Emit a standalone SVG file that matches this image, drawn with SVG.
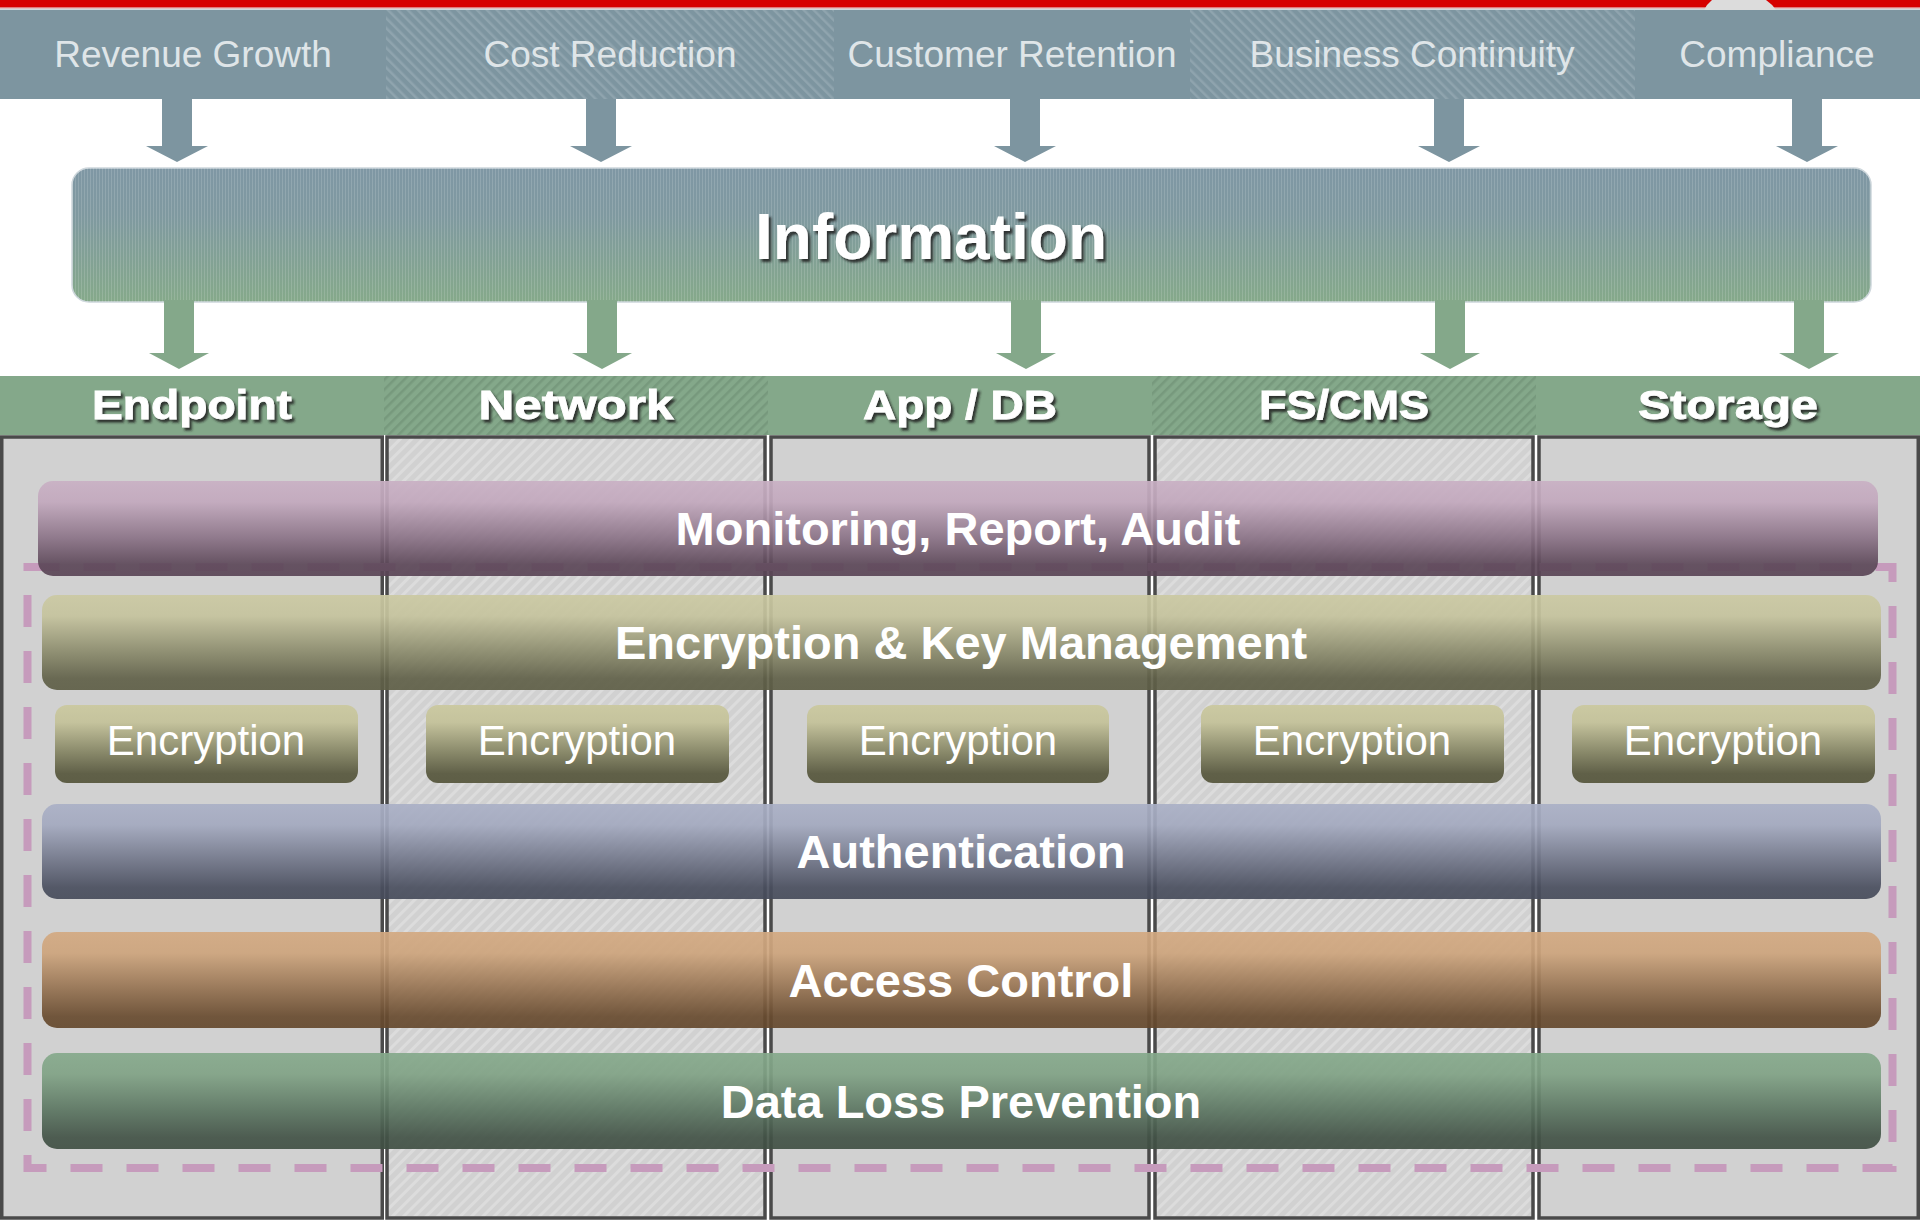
<svg xmlns="http://www.w3.org/2000/svg" width="1920" height="1220" viewBox="0 0 1920 1220">
<defs>
<style>
.hdr{font-family:"Liberation Sans",Arial,sans-serif;font-size:37px;fill:#dfe5e8;text-anchor:middle}
.col{font-family:"Liberation Sans",Arial,sans-serif;font-size:41px;font-weight:bold;fill:#ffffff;text-anchor:middle;stroke:#ffffff;stroke-width:0.8;filter:url(#sh)}
.bar{font-family:"Liberation Sans",Arial,sans-serif;font-size:47px;font-weight:bold;fill:#ffffff;text-anchor:middle}
.enc{font-family:"Liberation Sans",Arial,sans-serif;font-size:42px;fill:#ffffff;text-anchor:middle}
.colbox{stroke:#4a4a4a;stroke-width:3.5}
.arrTop{fill:#7d95a0}
.arrGrn{fill:#84a88a}
.b{opacity:0.92}
</style>
<filter id="sh" x="-10%" y="-20%" width="130%" height="160%">
<feDropShadow dx="2.5" dy="3" stdDeviation="1.2" flood-color="#1e1e1e" flood-opacity="0.85"/>
</filter>
<pattern id="hHatch" width="7" height="7" patternUnits="userSpaceOnUse" patternTransform="rotate(-45)">
<rect width="7" height="7" fill="#7d95a0"/>
<rect width="2.5" height="7" fill="#8fa4ae"/>
</pattern>
<pattern id="gHatch" width="7" height="7" patternUnits="userSpaceOnUse" patternTransform="rotate(45)">
<rect width="7" height="7" fill="#84a88a"/>
<rect width="2.5" height="7" fill="#77997d"/>
</pattern>
<pattern id="cHatch" width="8" height="8" patternUnits="userSpaceOnUse" patternTransform="rotate(45)">
<rect width="8" height="8" fill="#d1d1d1"/>
<rect width="3" height="8" fill="#dcdcdc"/>
</pattern>
<pattern id="vStripe" width="3" height="10" patternUnits="userSpaceOnUse">
<rect width="1" height="10" fill="#ffffff" opacity="0.14"/>
</pattern>
<linearGradient id="gInfo" x1="0" y1="0" x2="0" y2="1">
<stop offset="0" stop-color="#7f97a4"/>
<stop offset="0.35" stop-color="#7f99a0"/>
<stop offset="1" stop-color="#85a98a"/>
</linearGradient>
<linearGradient id="gMon" x1="0" y1="0" x2="0" y2="1">
<stop offset="0" stop-color="#c9b0c4"/>
<stop offset="0.22" stop-color="#c2a8bd"/>
<stop offset="0.6" stop-color="#8a7286"/>
<stop offset="0.88" stop-color="#5c4758"/>
<stop offset="1" stop-color="#5a4556"/>
</linearGradient>
<linearGradient id="gEnc" x1="0" y1="0" x2="0" y2="1">
<stop offset="0" stop-color="#cbc9a2"/>
<stop offset="0.22" stop-color="#c5c39d"/>
<stop offset="0.6" stop-color="#8a8a6b"/>
<stop offset="0.88" stop-color="#606048"/>
<stop offset="1" stop-color="#5e5e46"/>
</linearGradient>
<linearGradient id="gAuth" x1="0" y1="0" x2="0" y2="1">
<stop offset="0" stop-color="#aab0c6"/>
<stop offset="0.22" stop-color="#a3a9bf"/>
<stop offset="0.6" stop-color="#6f7487"/>
<stop offset="0.88" stop-color="#494e5e"/>
<stop offset="1" stop-color="#464b5a"/>
</linearGradient>
<linearGradient id="gAcc" x1="0" y1="0" x2="0" y2="1">
<stop offset="0" stop-color="#d3a981"/>
<stop offset="0.22" stop-color="#cda47c"/>
<stop offset="0.6" stop-color="#93704f"/>
<stop offset="0.88" stop-color="#684b2f"/>
<stop offset="1" stop-color="#64482d"/>
</linearGradient>
<linearGradient id="gDlp" x1="0" y1="0" x2="0" y2="1">
<stop offset="0" stop-color="#85a98b"/>
<stop offset="0.22" stop-color="#80a285"/>
<stop offset="0.6" stop-color="#5a7460"/>
<stop offset="0.88" stop-color="#425246"/>
<stop offset="1" stop-color="#404f43"/>
</linearGradient>
</defs>

<rect x="0" y="0" width="1920" height="1220" fill="#ffffff"/>

<!-- top red bar -->
<g id="topbar">
<rect x="0" y="0" width="1920" height="7" fill="#d60000"/>
<rect x="0" y="7" width="1920" height="1.6" fill="#e07a7a"/>
<rect x="0" y="8.6" width="1920" height="1.6" fill="#cfd8db"/>
<path d="M1712,0 L1766,0 Q1772,4 1776,10 L1704,10 Q1707,4 1712,0 Z" fill="#dcdcdc"/>
</g>

<!-- business driver header -->
<g id="drivers">
<g id="rev"><rect x="0" y="10" width="386" height="89" fill="#7d95a0"/><text class="hdr" x="193" y="67">Revenue Growth</text></g>
<g id="cost"><rect x="386" y="10" width="448" height="89" fill="url(#hHatch)"/><text class="hdr" x="610" y="67">Cost Reduction</text></g>
<g id="cust"><rect x="834" y="10" width="356" height="89" fill="#7d95a0"/><text class="hdr" x="1012" y="67">Customer Retention</text></g>
<g id="bc"><rect x="1190" y="10" width="445" height="89" fill="url(#hHatch)"/><text class="hdr" x="1412" y="67">Business Continuity</text></g>
<g id="comp"><rect x="1635" y="10" width="285" height="89" fill="#7d95a0"/><text class="hdr" x="1777" y="67">Compliance</text></g>
</g>

<!-- information -->
<g id="information">
<rect x="72" y="168" width="1799" height="134" rx="17" fill="url(#gInfo)" stroke="#cdd6db" stroke-width="1.5"/>
<rect x="72" y="168" width="1799" height="134" rx="17" fill="url(#vStripe)"/>
<text x="931" y="259" font-family="'Liberation Sans',Arial,sans-serif" font-size="64" font-weight="bold" fill="#ffffff" text-anchor="middle" filter="url(#sh)">Information</text>
</g>

<!-- connectors -->
<g id="connectors">
<path class="arrTop" d="M162,99 H192 V146 H208 L177,162 L146,146 H162 Z"/>
<path class="arrTop" d="M586,99 H616 V146 H632 L601,162 L570,146 H586 Z"/>
<path class="arrTop" d="M1010,99 H1040 V146 H1056 L1025,162 L994,146 H1010 Z"/>
<path class="arrTop" d="M1434,99 H1464 V146 H1480 L1449,162 L1418,146 H1434 Z"/>
<path class="arrTop" d="M1792,99 H1822 V146 H1838 L1807,162 L1776,146 H1792 Z"/>
<path class="arrGrn" d="M164,300 H194 V353 H209 L179,369 L149,353 H164 Z"/>
<path class="arrGrn" d="M587,300 H617 V353 H632 L602,369 L572,353 H587 Z"/>
<path class="arrGrn" d="M1011,300 H1041 V353 H1056 L1026,369 L996,353 H1011 Z"/>
<path class="arrGrn" d="M1435,300 H1465 V353 H1480 L1450,369 L1420,353 H1435 Z"/>
<path class="arrGrn" d="M1794,300 H1824 V353 H1839 L1809,369 L1779,353 H1794 Z"/>
</g>

<!-- columns -->
<g id="col-endpoint">
<rect x="0" y="376" width="384" height="59" fill="#84a88a"/>
<rect class="colbox" x="1.75" y="437" width="380.5" height="781" fill="#d1d1d1"/>
<text class="col" x="192" y="419" textLength="200" lengthAdjust="spacingAndGlyphs">Endpoint</text>
</g>
<g id="col-network">
<rect x="384" y="376" width="384" height="59" fill="url(#gHatch)"/>
<rect class="colbox" x="387" y="437" width="378" height="781" fill="url(#cHatch)"/>
<text class="col" x="576" y="419" textLength="195" lengthAdjust="spacingAndGlyphs">Network</text>
</g>
<g id="col-appdb">
<rect x="768" y="376" width="384" height="59" fill="#84a88a"/>
<rect class="colbox" x="771" y="437" width="378" height="781" fill="#d1d1d1"/>
<text class="col" x="960" y="419" textLength="194" lengthAdjust="spacingAndGlyphs">App / DB</text>
</g>
<g id="col-fscms">
<rect x="1152" y="376" width="384" height="59" fill="url(#gHatch)"/>
<rect class="colbox" x="1155" y="437" width="378" height="781" fill="url(#cHatch)"/>
<text class="col" x="1344" y="419" textLength="170" lengthAdjust="spacingAndGlyphs">FS/CMS</text>
</g>
<g id="col-storage">
<rect x="1536" y="376" width="384" height="59" fill="#84a88a"/>
<rect class="colbox" x="1539" y="437" width="379.25" height="781" fill="#d1d1d1"/>
<text class="col" x="1728" y="419" textLength="180" lengthAdjust="spacingAndGlyphs">Storage</text>
</g>

<!-- dashed boundary -->
<rect id="boundary" x="27.5" y="567" width="1865" height="601" fill="none" stroke="#c69bbc" stroke-width="8" stroke-dasharray="32 24"/>

<!-- layers -->
<g id="monitoring">
<rect class="b" x="38" y="481" width="1840" height="95" rx="15" fill="url(#gMon)"/>
<text class="bar" x="958" y="545">Monitoring, Report, Audit</text>
</g>
<g id="ekm">
<rect class="b" x="42" y="595" width="1839" height="95" rx="15" fill="url(#gEnc)"/>
<text class="bar" x="961" y="659">Encryption &amp; Key Management</text>
</g>
<g id="enc-endpoint"><rect x="55" y="705" width="303" height="78" rx="12" fill="url(#gEnc)"/><text class="enc" x="206" y="755">Encryption</text></g>
<g id="enc-network"><rect x="426" y="705" width="303" height="78" rx="12" fill="url(#gEnc)"/><text class="enc" x="577" y="755">Encryption</text></g>
<g id="enc-appdb"><rect x="807" y="705" width="302" height="78" rx="12" fill="url(#gEnc)"/><text class="enc" x="958" y="755">Encryption</text></g>
<g id="enc-fscms"><rect x="1201" y="705" width="303" height="78" rx="12" fill="url(#gEnc)"/><text class="enc" x="1352" y="755">Encryption</text></g>
<g id="enc-storage"><rect x="1572" y="705" width="303" height="78" rx="12" fill="url(#gEnc)"/><text class="enc" x="1723" y="755">Encryption</text></g>
<g id="authentication">
<rect class="b" x="42" y="804" width="1839" height="95" rx="15" fill="url(#gAuth)"/>
<text class="bar" x="961" y="868">Authentication</text>
</g>
<g id="access-control">
<rect class="b" x="42" y="932" width="1839" height="96" rx="15" fill="url(#gAcc)"/>
<text class="bar" x="961" y="997">Access Control</text>
</g>
<g id="dlp">
<rect class="b" x="42" y="1053" width="1839" height="96" rx="15" fill="url(#gDlp)"/>
<text class="bar" x="961" y="1118">Data Loss Prevention</text>
</g>
</svg>
